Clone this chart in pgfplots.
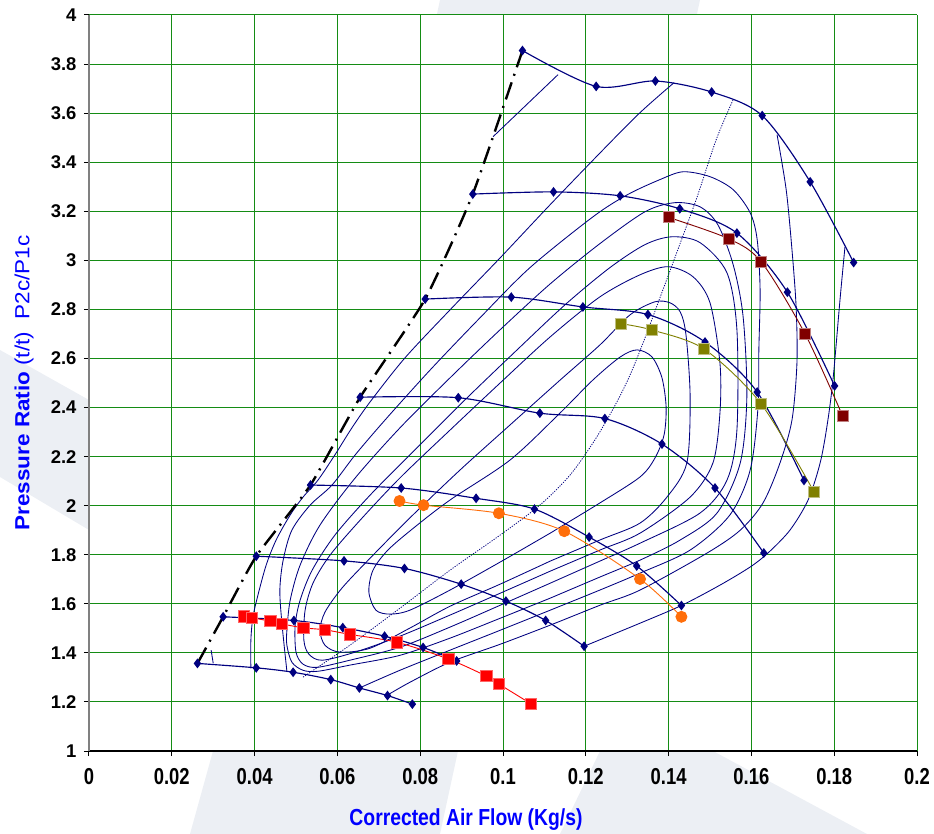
\documentclass[border=0pt]{standalone}
\usepackage{pgfplots}
\pgfplotsset{compat=1.18}
\usepackage{fontspec}
\setmainfont{Liberation Sans}
\usepackage{graphicx}
\definecolor{navy}{RGB}{0,0,128}
\definecolor{gridgreen}{RGB}{20,140,20}
\definecolor{wm}{RGB}{236,239,244}
\definecolor{mred}{RGB}{255,0,0}
\definecolor{morange}{RGB}{255,110,10}
\definecolor{molive}{RGB}{128,128,0}
\definecolor{mdred}{RGB}{128,0,0}
\definecolor{lblue}{RGB}{0,0,255}
\newcommand\xs[1]{\scalebox{1}[1.25]{#1}}
\begin{document}
\begin{tikzpicture}
\useasboundingbox (-89bp,-83bp) rectangle (845bp,751bp);
% watermark (background decoration)
\fill[wm] (351bp,751bp) -- (611bp,751bp) -- (600bp,700bp) -- (340bp,700bp) -- cycle;
\fill[wm] (-89bp,401bp) -- (0bp,351bp) -- (0bp,221bp) -- (-89bp,274bp) -- cycle;
\fill[wm] (124bp,0bp) -- (369bp,0bp) -- (351bp,-83bp) -- (101bp,-83bp) -- cycle;
\fill[wm] (511bp,0bp) -- (624bp,0bp) -- (778bp,-83bp) -- (471bp,-83bp) -- cycle;
\begin{axis}[
  scale only axis, width=828bp, height=736bp,
  xmin=0, xmax=0.2, ymin=1, ymax=4,
  axis background/.style={fill=white},
  axis lines=left, axis line style={-},
  x axis line style={black, line width=1.2bp},
  y axis line style={gray, line width=1.8bp},
  tick align=outside, major tick length=5bp,
  tick style={black, line width=1bp},
  xtick={0,0.02,0.04,0.06,0.08,0.1,0.12,0.14,0.16,0.18,0.2},
  xticklabels={\xs{0},\xs{0.02},\xs{0.04},\xs{0.06},\xs{0.08},\xs{0.1},\xs{0.12},\xs{0.14},\xs{0.16},\xs{0.18},\xs{0.2}},
  ytick={1,1.2,1.4,1.6,1.8,2,2.2,2.4,2.6,2.8,3,3.2,3.4,3.6,3.8,4},
  yticklabels={1,1.2,1.4,1.6,1.8,2,2.2,2.4,2.6,2.8,3,3.2,3.4,3.6,3.8,4},
  /pgf/number format/assume math mode=true,
  tick label style={font=\fontsize{18.5}{20}\selectfont\bfseries},
  xticklabel style={yshift=-9bp},
  yticklabel style={xshift=-4bp},
  grid=major, major grid style={gridgreen, line width=1bp},
  every axis x label/.style={at={(axis description cs:0.5,0)}, xshift=-37bp, yshift=-69bp, anchor=center},
  every axis y label/.style={at={(axis description cs:0,0.5)}, xshift=-65bp, rotate=90, anchor=center},
  xlabel={\scalebox{1}[1.2]{\fontsize{19.4}{22}\selectfont\bfseries\color{lblue}Corrected Air Flow (Kg/s)}},
  ylabel={\scalebox{1.1}[1]{\fontsize{20.5}{22}\selectfont\color{lblue}\textbf{Pressure Ratio} (t/t)\ \ P2c/P1c}},
  clip=false,
]
% efficiency contours
\pgfplotsset{cont/.style={navy, line width=0.85bp, smooth, tension=0.5, mark=none}}
\addplot[cont] coordinates {(0.1114,1.888) (0.0993,1.770) (0.0872,1.656) (0.0775,1.574) (0.0727,1.558) (0.0693,1.574) (0.0676,1.648) (0.0686,1.737) (0.0722,1.819) (0.0787,1.913) (0.0872,2.023) (0.1017,2.186) (0.1138,2.378) (0.1217,2.512) (0.1283,2.606) (0.1324,2.635) (0.1360,2.606) (0.1384,2.521) (0.1394,2.402) (0.1389,2.288) (0.1367,2.194) (0.1331,2.117) (0.1234,2.011) (0.1114,1.888)};
\addplot[cont] coordinates {(0.1114,1.774) (0.0993,1.680) (0.0872,1.590) (0.0775,1.501) (0.0679,1.419) (0.0606,1.403) (0.0570,1.431) (0.0558,1.492) (0.0570,1.566) (0.0611,1.664) (0.0679,1.786) (0.0775,1.950) (0.0896,2.145) (0.1017,2.329) (0.1138,2.512) (0.1234,2.655) (0.1307,2.778) (0.1367,2.831) (0.1403,2.827) (0.1428,2.790) (0.1442,2.696) (0.1452,2.443) (0.1444,2.174) (0.1396,2.035) (0.1331,1.929) (0.1234,1.860) (0.1114,1.774)};
\addplot[cont] coordinates {(0.1114,1.733) (0.0993,1.643) (0.0872,1.554) (0.0751,1.468) (0.0643,1.403) (0.0563,1.370) (0.0531,1.395) (0.0519,1.452) (0.0522,1.574) (0.0541,1.684) (0.0582,1.798) (0.0655,1.941) (0.0751,2.113) (0.0872,2.308) (0.0993,2.500) (0.1114,2.688) (0.1234,2.851) (0.1331,2.941) (0.1399,2.974) (0.1459,2.933) (0.1500,2.827) (0.1524,2.582) (0.1524,2.378) (0.1507,2.174) (0.1452,2.035) (0.1331,1.888) (0.1234,1.819) (0.1114,1.733)};
\addplot[cont] coordinates {(0.1114,1.684) (0.0993,1.594) (0.0872,1.505) (0.0751,1.423) (0.0630,1.370) (0.0551,1.341) (0.0517,1.354) (0.0500,1.403) (0.0498,1.513) (0.0510,1.615) (0.0539,1.737) (0.0594,1.880) (0.0679,2.043) (0.0787,2.227) (0.0908,2.431) (0.1029,2.627) (0.1150,2.819) (0.1258,2.970) (0.1343,3.064) (0.1408,3.096) (0.1476,3.072) (0.1541,2.949) (0.1565,2.717) (0.1565,2.308) (0.1541,2.104) (0.1476,1.970) (0.1331,1.847) (0.1234,1.774) (0.1114,1.684)};
\addplot[cont] coordinates {(0.1114,1.623) (0.0993,1.541) (0.0872,1.460) (0.0751,1.390) (0.0630,1.350) (0.0553,1.325) (0.0517,1.329) (0.0490,1.362) (0.0478,1.431) (0.0478,1.492) (0.0486,1.615) (0.0510,1.758) (0.0558,1.921) (0.0643,2.113) (0.0751,2.317) (0.0872,2.521) (0.0993,2.717) (0.1114,2.904) (0.1234,3.068) (0.1343,3.198) (0.1415,3.235) (0.1476,3.218) (0.1519,3.145) (0.1556,2.982) (0.1580,2.770) (0.1589,2.443) (0.1573,2.174) (0.1517,1.970) (0.1428,1.860) (0.1331,1.778) (0.1234,1.709) (0.1114,1.623)};
\addplot[cont] coordinates {(0.0478,1.325) (0.0466,1.521) (0.0461,1.656) (0.0469,1.778) (0.0490,1.900) (0.0534,2.002) (0.0587,2.084) (0.0643,2.207) (0.0715,2.349) (0.0824,2.553) (0.0944,2.765) (0.1065,2.970) (0.1217,3.177) (0.1300,3.267) (0.1379,3.329) (0.1435,3.361) (0.1500,3.341) (0.1556,3.288) (0.1597,3.194) (0.1614,3.084) (0.1621,2.880) (0.1618,2.635) (0.1616,2.402) (0.1597,2.145) (0.1548,1.962) (0.1452,1.819) (0.1331,1.725) (0.1234,1.656) (0.1114,1.574) (0.0993,1.492) (0.0872,1.411) (0.0751,1.329) (0.0652,1.256)};
\addplot[cont] coordinates {(0.0391,1.337) (0.0391,1.452) (0.0396,1.546) (0.0408,1.635) (0.0428,1.758) (0.0452,1.860) (0.0486,1.962) (0.0517,2.035) (0.0553,2.104) (0.0594,2.207) (0.0635,2.317) (0.0679,2.423) (0.0763,2.602) (0.0872,2.798) (0.0993,3.010) (0.1114,3.227) (0.1242,3.451) (0.1331,3.602) (0.1413,3.724)};
\addplot[cont] coordinates {(0.1662,3.512) (0.1684,3.288) (0.1698,3.043) (0.1708,2.810) (0.1710,2.582) (0.1698,2.349) (0.1669,2.174) (0.1628,2.011) (0.1573,1.900) (0.1493,1.807) (0.1331,1.656) (0.1234,1.594) (0.1114,1.513) (0.0993,1.435) (0.0872,1.362) (0.0775,1.280) (0.0720,1.227)};
\addplot[cont] coordinates {(0.0295,1.411) (0.0300,1.358)};
\addplot[cont] coordinates {(0.0976,3.504) (0.1133,3.757)};
\addplot[cont] coordinates {(0.1826,3.055) (0.1814,2.839) (0.1797,2.512) (0.1783,2.329) (0.1766,2.174) (0.1737,2.023) (0.1693,1.900) (0.1640,1.807) (0.1597,1.750) (0.1524,1.676) (0.1432,1.594) (0.1331,1.521) (0.1196,1.427)};
% max efficiency line (dotted)
\addplot[navy, line width=0.8bp, dash pattern=on 1.2bp off 1.3bp, smooth, tension=0.5] coordinates {(0.0517,1.301) (0.0630,1.431) (0.0751,1.582) (0.0872,1.737) (0.0993,1.880) (0.1089,2.002) (0.1162,2.125) (0.1222,2.268) (0.1271,2.410) (0.1307,2.533) (0.1343,2.684) (0.1379,2.847) (0.1415,3.010) (0.1469,3.259) (0.1515,3.492) (0.1556,3.655)};
% surge line
\addplot[black, line width=2.4bp, dash pattern=on 18bp off 7bp on 2bp off 7bp, smooth, tension=0.3] coordinates {(0.0262,1.357) (0.0324,1.547) (0.0404,1.794) (0.0535,2.084) (0.0655,2.442) (0.0812,2.842) (0.0927,3.270) (0.1047,3.855)};
% speed lines
\pgfplotsset{spd/.style={navy, line width=1.15bp, smooth, tension=0.5, mark=diamond*, mark size=4bp, mark options={solid, fill=navy, draw=navy}}}
\addplot[spd] coordinates {(0.0262,1.357) (0.0404,1.339) (0.0493,1.321) (0.0584,1.291) (0.0653,1.257) (0.0721,1.226) (0.0781,1.191)};
\addplot[spd] coordinates {(0.0324,1.547) (0.0495,1.532) (0.0613,1.503) (0.0714,1.468) (0.0807,1.422) (0.0888,1.367)};
\addplot[spd] coordinates {(0.0404,1.794) (0.0616,1.775) (0.0762,1.744) (0.0899,1.680) (0.1007,1.611) (0.1103,1.532) (0.1196,1.427)};
\addplot[spd] coordinates {(0.0535,2.084) (0.0754,2.072) (0.0935,2.030) (0.1076,1.986) (0.1208,1.872) (0.1323,1.754) (0.1431,1.593)};
\addplot[spd] coordinates {(0.0655,2.442) (0.0892,2.440) (0.1089,2.377) (0.1246,2.355) (0.1384,2.251) (0.1512,2.072) (0.1630,1.807)};
\addplot[spd] coordinates {(0.0812,2.842) (0.1020,2.850) (0.1193,2.810) (0.1350,2.779) (0.1488,2.667) (0.1614,2.463) (0.1727,2.103)};
\addplot[spd] coordinates {(0.0927,3.270) (0.1122,3.279) (0.1283,3.263) (0.1427,3.210) (0.1565,3.111) (0.1687,2.870) (0.1801,2.488)};
\addplot[spd] coordinates {(0.1047,3.855) (0.1225,3.709) (0.1368,3.731) (0.1504,3.686) (0.1626,3.590) (0.1742,3.320) (0.1847,2.991)};
% operating lines
\addplot[mred, line width=0.9bp, smooth, tension=0.5, mark=square*, mark size=5.7bp, mark options={solid, fill=mred, draw=mred!60}] coordinates {(0.0374,1.548) (0.0394,1.543) (0.0438,1.529) (0.0466,1.518) (0.0518,1.502) (0.0570,1.494) (0.0631,1.475) (0.0744,1.443) (0.0868,1.375) (0.0960,1.305) (0.0990,1.273) (0.1068,1.192)};
\addplot[morange, line width=0.9bp, smooth, tension=0.5, mark=*, mark size=5.5bp, mark options={solid, fill=morange, draw=morange}] coordinates {(0.0750,2.019) (0.0808,2.002) (0.0990,1.969) (0.1148,1.896) (0.1331,1.701) (0.1431,1.547)};
\addplot[molive, line width=0.9bp, smooth, tension=0.5, mark=square*, mark size=5.5bp, mark options={solid, fill=molive, draw=molive!50}] coordinates {(0.1284,2.742) (0.1360,2.716) (0.1486,2.638) (0.1623,2.416) (0.1752,2.054)};
\addplot[mdred, line width=0.9bp, smooth, tension=0.5, mark=square*, mark size=5.5bp, mark options={solid, fill=mdred, draw=mdred!50}] coordinates {(0.1400,3.175) (0.1545,3.088) (0.1624,2.993) (0.1730,2.699) (0.1820,2.367)};
\end{axis}
\end{tikzpicture}
\end{document}
